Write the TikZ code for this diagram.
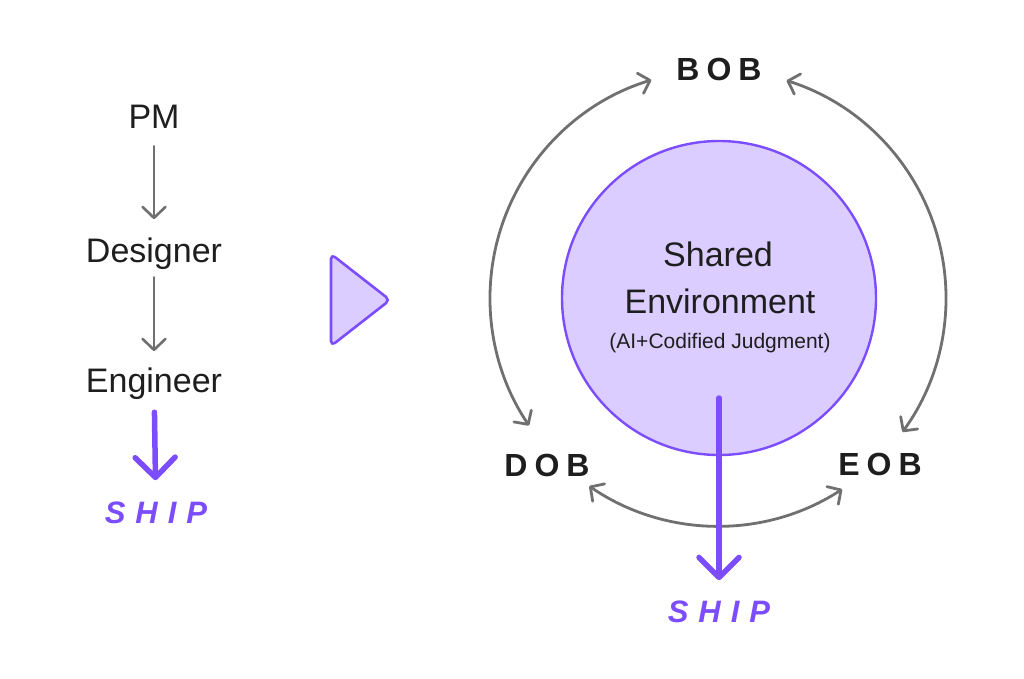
\documentclass[tikz,border=0pt]{standalone}
\usepackage{fontspec}
\setmainfont{Liberation Sans}
\usetikzlibrary{arrows.meta}
\definecolor{inkgray}{RGB}{112,112,112}
\definecolor{inkblack}{RGB}{30,30,30}
\definecolor{violetline}{RGB}{124,77,255}
\definecolor{violetfill}{RGB}{219,205,255}

\tikzset{
  role/.style={inner sep=0pt, anchor=base, text=inkblack, font=\fontsize{34}{40}\selectfont},
  team/.style={inner sep=0pt, anchor=base, text=inkblack, font=\fontsize{32}{38}\selectfont\bfseries},
  shiplabel/.style={inner sep=0pt, anchor=base, text=violetline, font=\fontsize{31}{36}\selectfont\bfseries\itshape},
  handoff/.style={draw=inkgray, line width=2.6pt, line cap=round,
    -{Straight Barb[length=11pt, width=23pt, line join=round, line cap=round]}},
  loopback/.style={draw=inkgray, line width=2.8pt, line cap=round,
    {Straight Barb[length=10pt, width=21pt, line join=round, line cap=round]}-{Straight Barb[length=10pt, width=21pt, line join=round, line cap=round]}},
  shipflow/.style={draw=violetline, line width=5.5pt, line cap=round,
    -{Straight Barb[length=20pt, width=40pt, line join=round, line cap=round]}}
}

\begin{document}
\begin{tikzpicture}[x=1pt, y=-1pt]
    \useasboundingbox (0,0) rectangle (1024,678);

    % hand-off chain
    \node[role] (pm) at (154,128) {PM};
    \node[role] (designer) at (154,262) {Designer};
    \node[role] (engineer) at (154,392) {Engineer};
    \node[shiplabel] (shipold) at (156,523) {S\kern10pt H\kern10pt I\kern10pt P};

    \draw[handoff, shorten <=18pt, shorten >=18pt] (pm) -- (designer);
    \draw[handoff, shorten <=8pt, shorten >=16pt] (designer) -- (engineer);
    \draw[shipflow, shorten <=13pt, shorten >=21pt] (engineer) -- (shipold);

    % becomes
    \draw[violetline, fill=violetfill, line width=2.6pt, rounded corners=5pt, line join=round]
        (331,254) -- (390,300) -- (331,346) -- cycle;

    % shared environment
    \node[circle, draw=violetline, fill=violetfill, line width=2.4pt,
          minimum size=314pt, inner sep=0pt] (env) at (719,298) {};
    \node[role] (shared) at (718,266) {Shared};
    \node[role] (environment) at (720,313) {Environment};
    \node[role, font=\fontsize{21}{24}\selectfont] (aicj) at (720,348) {(AI+Codified Judgment)};

    \node[team] (bob) at (719,80) {B\kern7pt O\kern7pt B};
    \node[team] (dob) at (547,476) {D\kern7pt O\kern7pt B};
    \node[team] (eob) at (880,475) {E\kern7pt O\kern7pt B};
    \node[shiplabel] (shipnew) at (719,622) {S\kern10pt H\kern10pt I\kern10pt P};

    % loops round the environment
    \coordinate (ring) at (718,298);
    \draw[loopback] ([shift={(ring)}]253:228) arc[start angle=253, end angle=146, radius=228];
    \draw[loopback] ([shift={(ring)}]287.5:228) arc[start angle=287.5, end angle=396, radius=228];
    \draw[loopback] ([shift={(ring)}]124.4:228) arc[start angle=124.4, end angle=57, radius=228];

    \draw[shipflow, shorten <=100pt, shorten >=20pt] (env.center) -- (shipnew);
\end{tikzpicture}
\end{document}
